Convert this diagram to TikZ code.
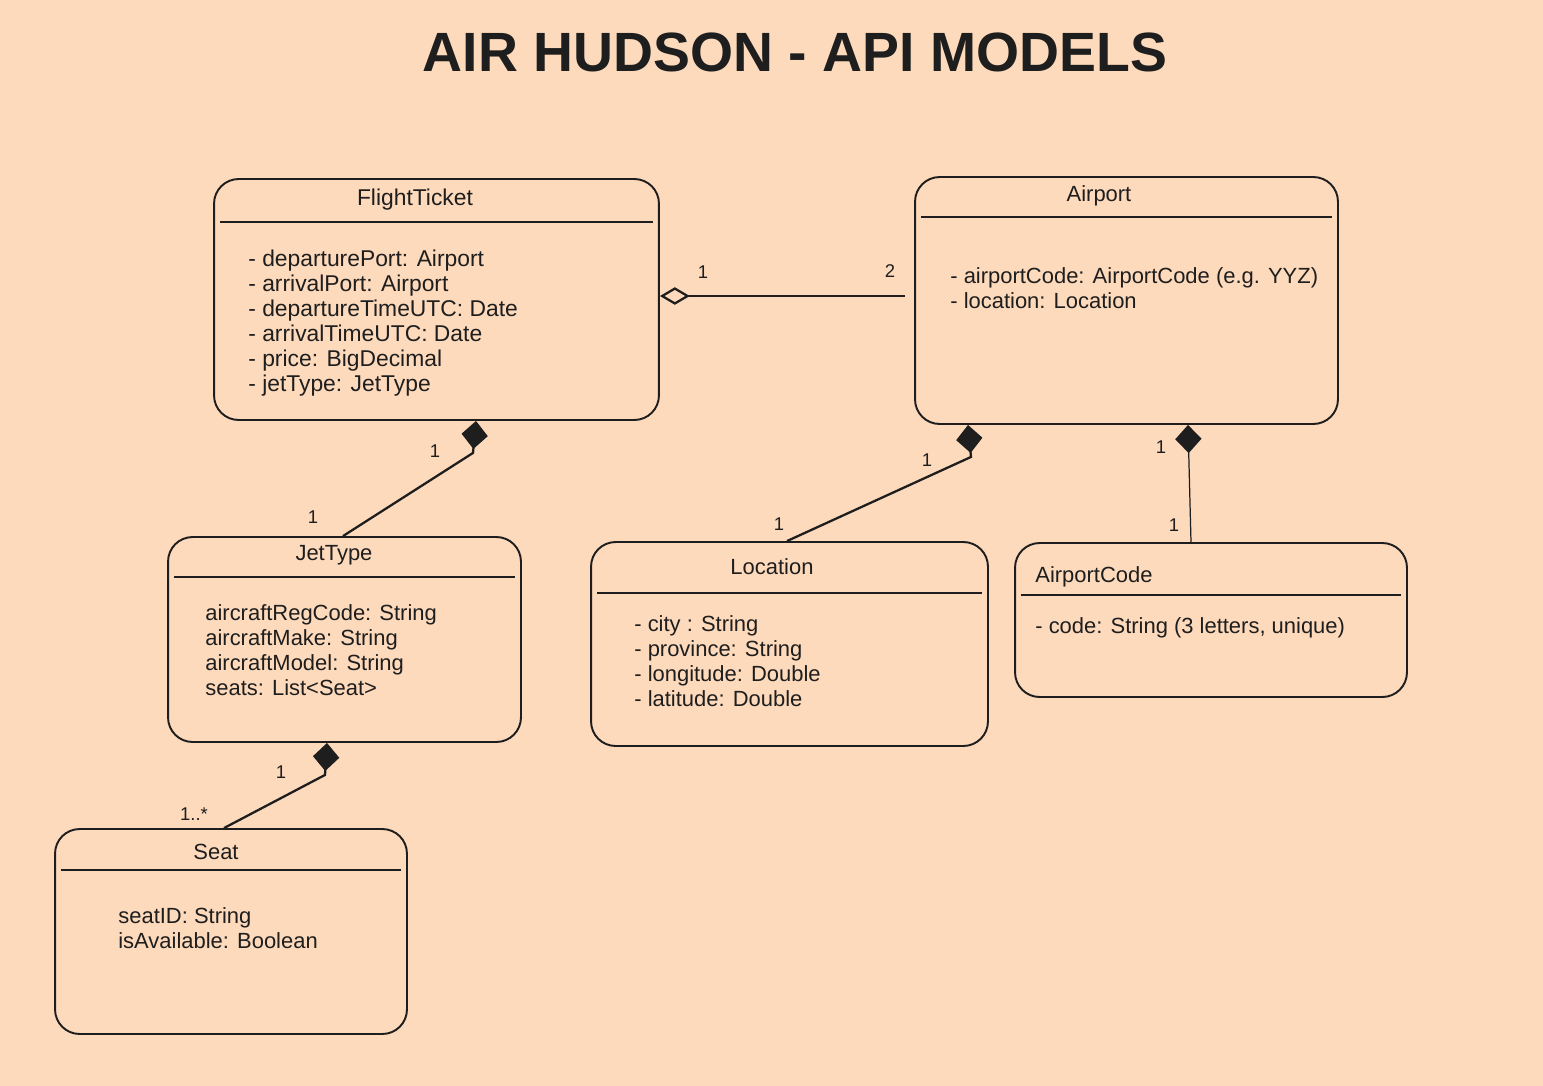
\documentclass[tikz,border=0pt]{standalone}
\usepackage{fontspec}
\setmainfont{Liberation Sans}
\usepackage{tikz}
\usetikzlibrary{arrows.meta,positioning}
\definecolor{peachbg}{RGB}{254,218,188}
\definecolor{inkdark}{RGB}{30,30,30}

\tikzset{
  classbox/.style={draw=inkdark, line width=1.1pt, rounded corners=14pt, inner sep=0pt},
  classtitle/.style={font=\fontsize{12.5}{14}\selectfont, text=inkdark, inner sep=0pt},
  attrlist/.style={font=\fontsize{12.5}{14.2}\selectfont, text=inkdark, align=left, anchor=north west, inner sep=0pt},
  sepline/.style={draw=inkdark, line width=1.6pt, shorten <=4pt, shorten >=4pt},
  multlabel/.style={font=\fontsize{10.5}{12}\selectfont, text=inkdark, inner sep=0pt},
  composition/.style={draw=inkdark, line width=1.3pt, {Diamond[length=16pt,width=15pt]}-},
  aggregation/.style={draw=inkdark, line width=1.3pt, {Diamond[open,length=17pt,width=10pt]}-},
}

\begin{document}
\begin{tikzpicture}[x=0.02cm,y=0.02cm]
    % Canvas
    \fill[peachbg] (0,0) rectangle (1543,-1086);
    \useasboundingbox (0,0) rectangle (1543,-1086);
    \node[font=\bfseries\fontsize{31.5}{35}\selectfont, text=inkdark] (title) at (795,-52) {AIR HUDSON - API MODELS};

    % FlightTicket
    \node[classbox, minimum width=8.9cm, minimum height=4.82cm] (ft) at (436.5,-299.5) {};
    \node[classtitle, font=\fontsize{13}{15}\selectfont] (ftname) at (415,-200) {FlightTicket};
    \draw[sepline] (ft.west |- 0,-222) -- (ft.east |- 0,-222);
    \node[attrlist, font=\fontsize{13}{14.2}\selectfont] (ftattr) at (248,-250) {- departurePort: Airport\\- arrivalPort: Airport\\- departureTimeUTC: Date\\- arrivalTimeUTC: Date\\- price: BigDecimal\\- jetType: JetType};

    % Airport
    \node[classbox, minimum width=8.46cm, minimum height=4.94cm] (ap) at (1126.5,-300.5) {};
    \node[classtitle] (apname) at (1099,-196) {Airport};
    \draw[sepline] (ap.west |- 0,-217) -- (ap.east |- 0,-217);
    \node[attrlist] (apattr) at (950,-267) {- airportCode: AirportCode (e.g. YYZ)\\- location: Location};

    % JetType
    \node[classbox, minimum width=7.06cm, minimum height=4.10cm] (jt) at (344.5,-639.5) {};
    \node[classtitle] (jtname) at (334,-555) {JetType};
    \draw[sepline] (jt.west |- 0,-577) -- (jt.east |- 0,-577);
    \node[attrlist] (jtattr) at (205,-604) {aircraftRegCode: String\\aircraftMake: String\\aircraftModel: String\\seats: List<Seat>};

    % Location
    \node[classbox, minimum width=7.94cm, minimum height=4.08cm] (loc) at (789.5,-644) {};
    \node[classtitle] (locname) at (772,-567) {Location};
    \draw[sepline] (loc.west |- 0,-593) -- (loc.east |- 0,-593);
    \node[attrlist] (locattr) at (634,-615) {- city : String\\- province: String\\- longitude: Double\\- latitude: Double};

    % AirportCode
    \node[classbox, minimum width=7.84cm, minimum height=3.08cm] (apc) at (1211,-620) {};
    \node[classtitle, anchor=west] (apcname) at (1035,-577) {AirportCode};
    \draw[sepline] (apc.west |- 0,-595) -- (apc.east |- 0,-595);
    \node[attrlist] (apcattr) at (1035,-617) {- code: String (3 letters, unique)};

    % Seat
    \node[classbox, minimum width=7.04cm, minimum height=4.10cm] (seat) at (231,-931.5) {};
    \node[classtitle] (seatname) at (216,-852) {Seat};
    \draw[sepline] (seat.west |- 0,-870) -- (seat.east |- 0,-870);
    \node[attrlist] (seatattr) at (118,-907) {seatID: String\\isAvailable: Boolean};

    % Aggregation FlightTicket - Airport
    \coordinate (aggend) at (905,-296);
    \draw[aggregation] (ft.east |- aggend) -- (aggend);
    \node[multlabel] (agg1) at (703,-272) {1};
    \node[multlabel] (agg2) at (890,-271) {2};

    % Compositions
    \draw[composition] (ft.south -| 476,0) -- ++(-3,-32) -- (jt.north -| 343,0);
    \node[multlabel] (ftjt1) at (435,-451) {1};
    \node[multlabel] (ftjt2) at (313,-517) {1};

    \draw[composition] (ap.south -| 968,0) -- ++(3,-32) -- (loc.north -| 787,0);
    \node[multlabel] (aploc1) at (927,-460) {1};
    \node[multlabel] (aploc2) at (779,-524) {1};

    \draw[composition, line width=0.7pt] (ap.south -| 1188,0) -- (apc.north -| 1191,0);
    \node[multlabel] (apapc1) at (1161,-447) {1};
    \node[multlabel] (apapc2) at (1174,-525) {1};

    \draw[composition] (jt.south -| 327,0) -- ++(-2,-32) -- (seat.north -| 224,0);
    \node[multlabel] (jtseat1) at (281,-772) {1};
    \node[multlabel] (jtseat2) at (194,-814) {1..*};
\end{tikzpicture}
\end{document}
